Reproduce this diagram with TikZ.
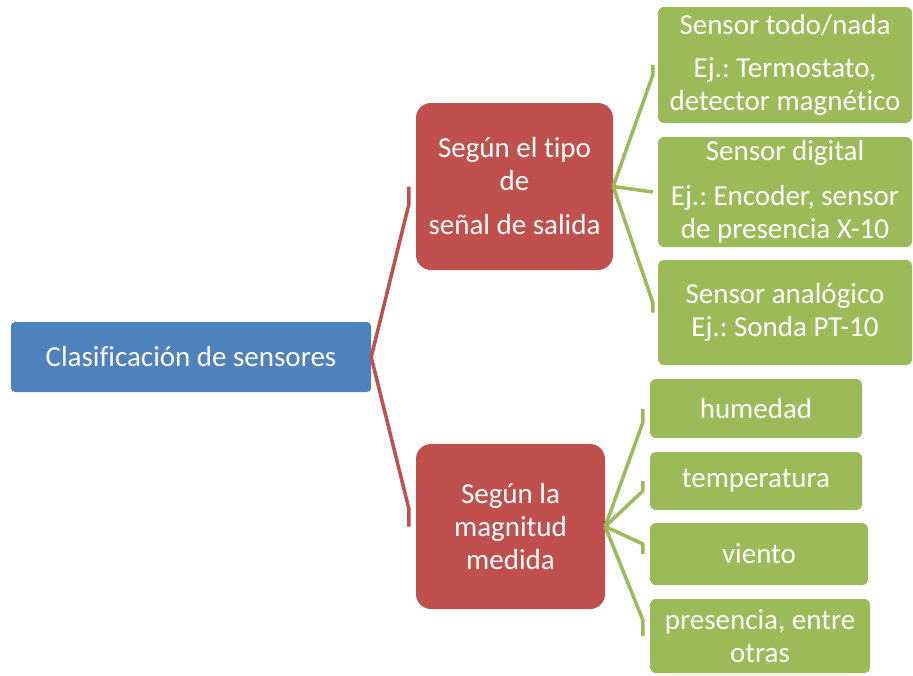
\documentclass[tikz,border=0pt]{standalone}
\usepackage{fontspec}
\setmainfont{Carlito}[Ligatures={NoCommon}]
\frenchspacing
\usetikzlibrary{calc}
\definecolor{cblue}{HTML}{4F81BD}
\definecolor{cred}{HTML}{C0504D}
\definecolor{cgreen}{HTML}{9BBB59}
\begin{document}
\begin{tikzpicture}[x=1pt,y=-1pt,
  box/.style={inner sep=0pt, text=white, align=center, font=\fontsize{29}{33}\selectfont},
  rootbox/.style={box, fill=cblue, rounded corners=4pt},
  midbox/.style={box, fill=cred, rounded corners=15pt},
  leafbox/.style={box, fill=cgreen, rounded corners=6pt},
  redline/.style={draw=cred, line width=3.5pt, line join=round},
  greenline/.style={draw=cgreen, line width=3.5pt, line join=round}]
\fill[white] (0,0) rectangle (913,675);
\useasboundingbox (0,0) rectangle (913,675);

\node[rootbox, minimum width=360pt, minimum height=70pt] (root) at (191,357) {Clasificación de sensores};

\node[midbox, minimum width=197pt, minimum height=167pt] (s1) at (514.5,186.5) {Según el tipo\\ de\\[11pt] señal de salida};
\node[midbox, minimum width=189pt, minimum height=165pt] (s2) at (510.5,526.5) {Según la\\ magnitud\\ medida};

\node[leafbox, minimum width=254pt, minimum height=116pt] (g1) at (785,65) {Sensor todo/nada\\[10pt] Ej.: Termostato,\\ detector magnético};
\node[leafbox, minimum width=254pt, minimum height=110pt] (g2) at (785,192) {Sensor digital\\[12pt] Ej.: Encoder, sensor\\ de presencia X-10};
\node[leafbox, minimum width=254pt, minimum height=105pt] (g3) at (785,312.5) {Sensor analógico\\ Ej.: Sonda PT-10};

\node[leafbox, minimum width=212pt, minimum height=59pt] (g4) at (756,408.5) {humedad};
\node[leafbox, minimum width=212pt, minimum height=58pt] (g5) at (756,481) {temperatura};
\node[leafbox, minimum width=218pt, minimum height=62pt] (g6) at (759,554) {viento};
\node[leafbox, minimum width=220pt, minimum height=74pt] (g7) at (760,636) {presencia, entre\\ otras};

\draw[redline] (root.east) -- ($(s1.west)+(-7,18)$) -- ($(s1.west)+(-7,0)$);
\draw[redline] (root.east) -- ($(s2.west)+(-7,-18)$) -- ($(s2.west)+(-7,0)$);

\draw[greenline] (s1.east) -- ($(g1.west)+(-5,10)$) -- ($(g1.west)+(-5,0)$);
\draw[greenline] (s1.east) -- ($(g2.west)+(-5,0)$);
\draw[greenline] (s1.east) -- ($(g3.west)+(-5,-10)$) -- ($(g3.west)+(-5,0)$);

\draw[greenline] (s2.east) -- ($(g4.west)+(-7,14)$) -- ($(g4.west)+(-7,0)$);
\draw[greenline] (s2.east) -- ($(g5.west)+(-7,10)$) -- ($(g5.west)+(-7,0)$);
\draw[greenline] (s2.east) -- ($(g6.west)+(-7,-10)$) -- ($(g6.west)+(-7,0)$);
\draw[greenline] (s2.east) -- ($(g7.west)+(-7,-16)$) -- ($(g7.west)+(-7,0)$);
\end{tikzpicture}
\end{document}
